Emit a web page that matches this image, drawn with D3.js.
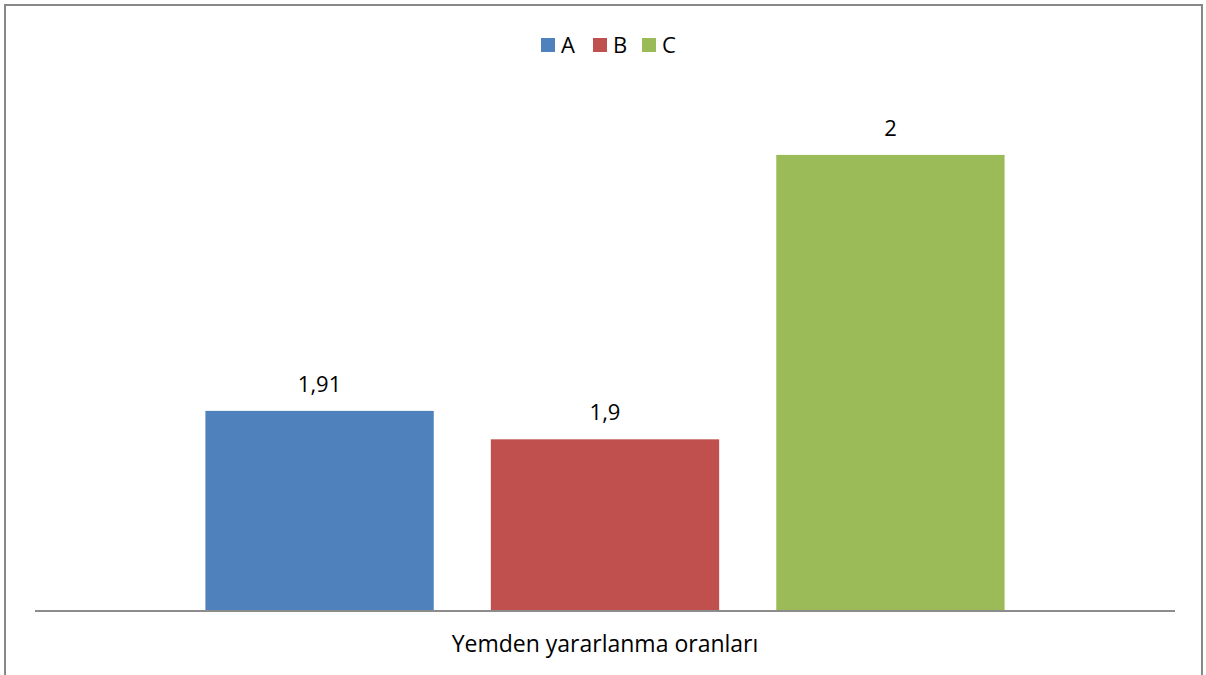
<!DOCTYPE html>
<html>
<head>
<meta charset="utf-8">
<script src="https://cdn.jsdelivr.net/npm/d3@7"></script>
<style>
  body { margin: 0; background: #fff; }
  svg text { font-family: "Open Sans", sans-serif; fill: #000; }
</style>
</head>
<body>
<svg id="chart" width="1206" height="675"></svg>
<script>
// data
let series = ['A', 'B', 'C'];
let values = [1.91, 1.9, 2];
let valueLabels = ['1,91', '1,9', '2'];
let colors = ['#4f81bd', '#c0504d', '#9bbb59'];
let category = 'Yemden yararlanma oranları';

let svg = d3.select('#chart');
let W = 1206, H = 675;

// outer chart border (bottom edge runs off the page)
svg.append('rect')
  .attr('x', 5).attr('y', 5)
  .attr('width', W - 9).attr('height', H + 10)
  .attr('fill', '#fff')
  .attr('stroke', '#888').attr('stroke-width', 2);

let plot = {left: 35, right: 1175, top: 98, bottom: 610};

let x = d3.scaleBand()
  .domain(series)
  .range([plot.left, plot.right])
  .paddingInner(0.2)
  .paddingOuter(0.597);

// value axis doesn't start at zero (Excel auto min)
let y = d3.scaleLinear()
  .domain([1.84, 2.02])
  .range([plot.bottom, plot.top]);

let bars = svg.append('g').classed('bars', true);
bars.selectAll('rect')
  .data(values)
  .enter()
  .append('rect')
  .attr('x', (v, i) => x(series[i]))
  .attr('y', v => y(v))
  .attr('width', x.bandwidth())
  .attr('height', v => plot.bottom - y(v))
  .attr('fill', (v, i) => colors[i]);

// data labels
bars.selectAll('text')
  .data(values)
  .enter()
  .append('text')
  .attr('x', (v, i) => x(series[i]) + x.bandwidth() / 2)
  .attr('y', v => y(v) - 19)
  .attr('text-anchor', 'middle')
  .style('font-size', '22px')
  .text((v, i) => valueLabels[i]);

// category axis line
svg.append('line')
  .attr('x1', plot.left).attr('x2', plot.right)
  .attr('y1', plot.bottom + 1).attr('y2', plot.bottom + 1)
  .attr('stroke', '#8c8c8c').attr('stroke-width', 2);

svg.append('text')
  .attr('x', (plot.left + plot.right) / 2)
  .attr('y', 652)
  .attr('text-anchor', 'middle')
  .style('font-size', '23px')
  .text(category);

// legend
let legendX = [541, 593, 642];
let legend = svg.append('g').classed('legend', true);
let items = legend.selectAll('g')
  .data(series)
  .enter()
  .append('g')
  .attr('transform', (s, i) => `translate(${legendX[i]},38)`);
items.append('rect')
  .attr('width', 14).attr('height', 14)
  .attr('fill', (s, i) => colors[i]);
items.append('text')
  .attr('x', 20).attr('y', 15)
  .style('font-size', '22px')
  .text(s => s);
</script>
</body>
</html>
